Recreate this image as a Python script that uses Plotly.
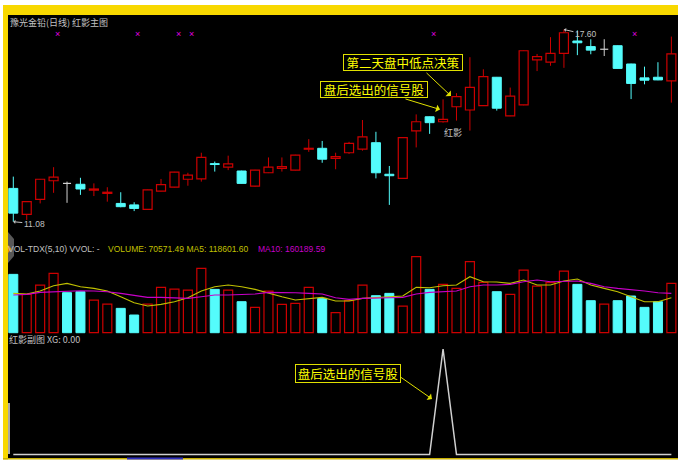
import plotly.graph_objects as go

# ---------------- data ----------------
days = list(range(50))
opens = [12.21, 11.33, 11.84, 12.47, 12.38, 12.35, 12.15, 12.04, 11.70, 11.65,
         11.50, 12.12, 12.25, 12.52, 12.53, 13.05, 12.93, 12.80, 12.29, 12.74,
         12.89, 12.83, 13.54, 13.57, 13.23, 13.42, 13.54, 13.76, 12.69, 12.55,
         14.16, 14.64, 14.47, 14.98, 14.87, 15.02, 15.98, 14.67, 15.04, 16.57,
         16.49, 16.79, 17.21, 17.02, 16.93, 17.05, 16.43, 15.96, 15.98, 15.86]
highs = [12.61, 11.77, 12.53, 12.93, 12.44, 12.57, 12.38, 12.25, 12.08, 11.74,
         12.17, 12.53, 12.77, 12.74, 13.42, 13.12, 13.32, 12.81, 12.84, 13.26,
         13.26, 13.35, 13.88, 13.82, 13.42, 13.79, 14.53, 14.13, 12.97, 13.94,
         14.72, 14.65, 15.23, 15.44, 16.66, 16.25, 15.99, 15.63, 16.89, 16.77,
         17.34, 17.60, 17.57, 17.27, 17.27, 17.06, 16.44, 16.34, 16.49, 17.36]
lows = [11.08, 11.14, 11.70, 12.06, 11.72, 11.99, 11.95, 11.76, 11.57, 11.44,
        11.49, 12.11, 12.24, 12.30, 12.44, 12.78, 12.83, 12.37, 12.27, 12.73,
        12.78, 12.82, 13.45, 13.08, 12.86, 13.38, 13.49, 12.55, 11.65, 12.54,
        13.60, 14.06, 14.44, 14.51, 14.17, 15.01, 14.85, 14.66, 15.03, 16.19,
        16.37, 16.30, 16.73, 16.76, 16.70, 16.27, 15.24, 15.74, 15.88, 15.12]
closes = [11.37, 11.76, 12.52, 12.59, 12.38, 12.19, 12.19, 12.08, 11.59, 11.53,
          12.16, 12.34, 12.76, 12.66, 13.26, 13.02, 13.04, 12.38, 12.83, 12.93,
          12.95, 13.34, 13.57, 13.20, 13.29, 13.74, 13.96, 12.74, 12.64, 13.93,
          14.47, 14.44, 14.55, 15.32, 15.64, 16.00, 14.93, 15.34, 16.88, 16.68,
          16.79, 17.49, 17.15, 16.90, 16.93, 16.28, 15.77, 15.88, 15.89, 16.77]
volumes = [175000, 115000, 143000, 178000, 120000, 123000, 98000, 86000, 73000, 53000,
           86000, 136000, 131000, 128000, 193000, 130000, 128000, 93000, 76000, 125000,
           85000, 88000, 136000, 103000, 60000, 96000, 143000, 111000, 118000, 80000,
           228000, 130000, 145000, 133000, 213000, 151000, 123000, 115000, 188000, 140000,
           150000, 185000, 145000, 96000, 86000, 96000, 110000, 76000, 93000, 148000]
ma5 = [118000, 116000, 125000, 141000, 148000, 138000, 133000, 125000, 108000, 90000,
       80000, 85000, 93000, 105000, 125000, 138000, 143000, 138000, 130000, 118000,
       108000, 98000, 103000, 106000, 95000, 95000, 103000, 105000, 107000, 110000,
       136000, 135000, 141000, 143000, 168000, 153000, 152000, 148000, 158000, 143000,
       143000, 155000, 161000, 143000, 133000, 123000, 108000, 93000, 93000, 105000]
ma10 = [113000, 115000, 121000, 123000, 125000, 126000, 125000, 123000, 118000, 113000,
        106000, 106000, 105000, 103000, 108000, 113000, 113000, 115000, 116000, 121000,
        121000, 120000, 118000, 116000, 105000, 100000, 103000, 103000, 105000, 106000,
        116000, 121000, 123000, 125000, 138000, 143000, 143000, 145000, 153000, 158000,
        153000, 153000, 155000, 148000, 138000, 133000, 130000, 125000, 120000, 118000]
xg = [0, 0, 0, 0, 0, 0, 0, 0, 0, 0,
      0, 0, 0, 0, 0, 0, 0, 0, 0, 0,
      0, 0, 0, 0, 0, 0, 0, 0, 0, 0,
      0, 0, 1, 0, 0, 0, 0, 0, 0, 0,
      0, 0, 0, 0, 0, 0, 0, 0, 0, 0]
mark_days = [3, 9, 12, 13, 31, 46]
signal_day = 32
low_day, high_day = 0, 41

title_main = "豫光金铅(日线) 红影主图"
title_vol = "VOL-TDX(5,10) VVOL: -"
title_vol_vals = "VOLUME: 70571.49 MA5: 118601.60"
title_vol_ma10 = "MA10: 160189.59"
title_xg = "红影副图 XG: 0.00"
note_next = "第二天盘中低点决策"
note_signal = "盘后选出的信号股"
note_shadow = "红影"

# ---------------- styling / layout constants ----------------
W, H = 678, 463
RED = "#cc0000"
CYAN = "#54fcfc"
DOJI = "#d0d0d0"
GRAY = "#c0c0c0"
YEL = "#c0c000"
MAG = "#c800c8"
BOXY = "#ffff00"
FRAME = "#f8d800"
CJK = "Noto Sans CJK SC"
LAT = "Liberation Sans, Noto Sans CJK SC"
BODY_W = 0.67


def pxx(x):
    return x / W


def pxy(y):
    return 1 - y / H


kinds = []
for o, c in zip(opens, closes):
    kinds.append("up" if c > o else ("down" if c < o else "flat"))

vol_up = []
for i, k in enumerate(kinds):
    if k == "flat":
        vol_up.append(i > 0 and closes[i] >= closes[i - 1])
    else:
        vol_up.append(k == "up")

fig = go.Figure()

# wicks
for kind, col in (("up", RED), ("down", CYAN), ("flat", DOJI)):
    xs, ys = [], []
    for i in days:
        if kinds[i] != kind:
            continue
        lo_b, hi_b = min(opens[i], closes[i]), max(opens[i], closes[i])
        xs += [days[i], days[i], None, days[i], days[i], None]
        ys += [lows[i], lo_b, None, hi_b, highs[i], None]
    fig.add_trace(go.Scatter(x=xs, y=ys, mode="lines", line=dict(color=col, width=1),
                             yaxis="y", hoverinfo="skip"))

# bodies
up_i = [i for i in days if kinds[i] == "up"]
dn_i = [i for i in days if kinds[i] == "down"]
fig.add_trace(go.Bar(x=[days[i] for i in up_i], y=[closes[i] - opens[i] for i in up_i],
                     base=[opens[i] for i in up_i], width=BODY_W, yaxis="y",
                     marker=dict(color="black", line=dict(color=RED, width=1.2))))
fig.add_trace(go.Bar(x=[days[i] for i in dn_i], y=[opens[i] - closes[i] for i in dn_i],
                     base=[closes[i] for i in dn_i], width=BODY_W, yaxis="y",
                     marker=dict(color=CYAN, line=dict(color=CYAN, width=1))))
# doji cross bars
dx, dy = [], []
for i in days:
    if kinds[i] == "flat":
        dx += [days[i] - 0.3, days[i] + 0.3, None]
        dy += [opens[i], opens[i], None]
fig.add_trace(go.Scatter(x=dx, y=dy, mode="lines", line=dict(color=DOJI, width=1.2), yaxis="y"))

# volume
vu = [i for i in days if vol_up[i]]
vd = [i for i in days if not vol_up[i]]
fig.add_trace(go.Bar(x=[days[i] for i in vu], y=[volumes[i] for i in vu], width=BODY_W, yaxis="y2",
                     marker=dict(color="black", line=dict(color=RED, width=1.2))))
fig.add_trace(go.Bar(x=[days[i] for i in vd], y=[volumes[i] for i in vd], width=BODY_W, yaxis="y2",
                     marker=dict(color=CYAN, line=dict(color=CYAN, width=1))))
fig.add_trace(go.Scatter(x=days, y=ma5, mode="lines", line=dict(color=YEL, width=1.1), yaxis="y2"))
fig.add_trace(go.Scatter(x=days, y=ma10, mode="lines", line=dict(color=MAG, width=1.1), yaxis="y2"))

# XG indicator
fig.add_trace(go.Scatter(x=days, y=xg, mode="lines", line=dict(color="#d0d0d0", width=1.5), yaxis="y3"))

# ---------------- annotations ----------------
ann = []


def txt(x, y, s, color, size, fam=LAT, xa="left"):
    ann.append(dict(x=pxx(x), y=pxy(y), xref="paper", yref="paper", text=s, showarrow=False,
                    xanchor=xa, yanchor="middle", borderpad=0,
                    font=dict(color=color, size=size, family=fam)))


txt(9, 22.5, title_main, GRAY, 9, CJK)
txt(7, 248.5, title_vol, GRAY, 8.5)
txt(107, 248.5, title_vol_vals, YEL, 8.5)
txt(257, 248.5, title_vol_ma10, MAG, 8.5)
txt(8, 339.5, title_xg, GRAY, 9, CJK)


def box(cx, cy, s, w, h):
    ann.append(dict(x=pxx(cx), y=pxy(cy), xref="paper", yref="paper", text=s, showarrow=False,
                    xanchor="center", yanchor="middle", width=w, height=h, borderpad=0,
                    bordercolor="#e0e000", borderwidth=1, bgcolor="black",
                    font=dict(color=BOXY, size=12.5, family=CJK)))


def arrow(tx, ty, ax, ay):
    ann.append(dict(x=pxx(tx), y=pxy(ty), xref="paper", yref="paper", text="", showarrow=True,
                    ax=ax, ay=ay, arrowhead=1, arrowsize=1.3, arrowwidth=1, arrowcolor="#e0e000",
                    standoff=0))


box(403, 62.7, note_next, 118, 15)
box(374, 89.5, note_signal, 106, 15)
box(348, 373.5, note_signal, 104, 17)
arrow(451, 96, -26, -24.5)
arrow(440, 109.5, -36, -11)
arrow(432, 399, -33, -23)

# low / high labels
ann.append(dict(x=days[low_day], y=lows[low_day], xref="x", yref="y", text="11.08", showarrow=True,
                ax=21, ay=2, arrowhead=1, arrowsize=0.7, arrowwidth=1, arrowcolor=GRAY, standoff=0,
                font=dict(color=GRAY, size=8.5, family=LAT)))
ann.append(dict(x=days[high_day], y=highs[high_day], xref="x", yref="y", text="17.60", showarrow=True,
                ax=22, ay=5, arrowhead=1, arrowsize=0.7, arrowwidth=1, arrowcolor=GRAY, standoff=0,
                font=dict(color=GRAY, size=8.5, family=LAT)))
# "红影" text under the signal candle
ann.append(dict(x=days[signal_day], y=14.12, xref="x", yref="y", text=note_shadow, showarrow=False,
                xanchor="left", yanchor="middle", xshift=-1,
                font=dict(color=GRAY, size=9, family=CJK)))
# magenta markers near the top
for d in mark_days:
    ann.append(dict(x=days[d], y=17.44, xref="x", yref="y", text="×", showarrow=False,
                    xanchor="center", yanchor="middle", xshift=3.7,
                    font=dict(color="#e000e0", size=9, family=LAT)))

# ---------------- frame shapes ----------------
shapes = []


def rect(x0, y0, x1, y1, col):
    shapes.append(dict(type="rect", xref="paper", yref="paper", x0=pxx(x0), x1=pxx(x1),
                       y0=pxy(y1), y1=pxy(y0), fillcolor=col, line=dict(width=0), layer="above"))


rect(0, 0, W, 5, "white")
rect(0, 0, 3, H, "white")
rect(0, 459.5, W, H, "white")
rect(3, 5, W, 15, FRAME)
rect(3, 5, 8, 459.5, FRAME)
rect(3, 458, W, 459.5, "#c8b000")
rect(8, 403, 10, 454, "#a8a8a8")
rect(127, 457.5, 183, 459.5, "#3030c0")
shapes.append(dict(type="path", xref="paper", yref="paper", layer="above",
                   path="M {} {} L {} {} L {} {} L {} {} Z".format(pxx(8), pxy(232), pxx(14), pxy(239),
                                                                   pxx(14), pxy(256), pxx(8), pxy(263)),
                   fillcolor="#585858", line=dict(width=0)))
shapes.append(dict(type="path", xref="paper", yref="paper", layer="above",
                   path="M {} {} L {} {} L {} {} Z".format(pxx(8), pxy(245), pxx(11.5), pxy(249),
                                                           pxx(8), pxy(253)),
                   fillcolor="#e09000", line=dict(width=0)))

# ---------------- axes ----------------
step = 13.43
x_first = 13.3
x_range = [-x_first / step, (W - x_first) / step]
ppu = 29.48          # pixels per price unit
p_at0 = 18.6007      # price at pixel row 0
vol_ppx = 3000       # volume units per pixel
vol_base = 332.7
xg_ppu = 105.5
xg_base = 454.5

fig.update_layout(
    width=W, height=H, margin=dict(l=0, r=0, t=0, b=0),
    paper_bgcolor="white", plot_bgcolor="black", showlegend=False, barmode="overlay",
    font=dict(family=LAT),
    xaxis=dict(domain=[0, 1], range=x_range, visible=False, showgrid=False, zeroline=False),
    yaxis=dict(domain=[pxy(241), pxy(15)], range=[p_at0 - 241 / ppu, p_at0 - 15 / ppu],
               visible=False, showgrid=False, zeroline=False, anchor="x"),
    yaxis2=dict(domain=[pxy(334), pxy(241)],
                range=[(vol_base - 334) * vol_ppx, (vol_base - 241) * vol_ppx],
                visible=False, showgrid=False, zeroline=False, anchor="x"),
    yaxis3=dict(domain=[pxy(458), pxy(334)],
                range=[(xg_base - 458) / xg_ppu, (xg_base - 334) / xg_ppu],
                visible=False, showgrid=False, zeroline=False, anchor="x"),
    annotations=ann, shapes=shapes,
)

fig.write_html("out.html", config={"displayModeBar": False},
               post_script="document.body.style.margin='0';document.body.style.overflow='hidden';")
